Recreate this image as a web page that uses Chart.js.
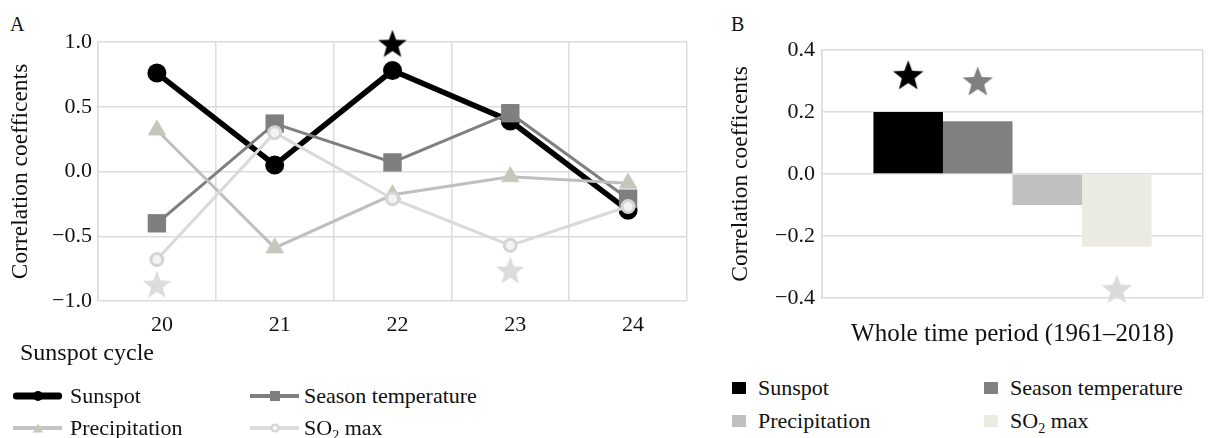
<!DOCTYPE html>
<html>
<head>
<meta charset="utf-8">
<script src="https://cdn.jsdelivr.net/npm/chart.js@4"></script>
<style>
  body { margin: 0; width: 1219px; height: 438px; background: #fff; position: relative; overflow: hidden;
         font-family: 'Liberation Serif', serif; font-size: 22px; color: #111; }
  .abs { position: absolute; }
  #boxA { left: 0; top: 0; width: 700px; height: 340px; }
  #boxB { left: 700px; top: 0; width: 519px; height: 345px; }
  .panel { font-size: 20px; }
  .item { position: absolute; height: 26px; line-height: 26px; white-space: nowrap; }
  .icon { position: absolute; top: 3px; width: 49px; height: 20px; }
  .icon .ln { position: absolute; left: 0; right: 0; top: 50%; transform: translateY(-50%); }
  .icon .mk { position: absolute; left: 50%; top: 50%; transform: translate(-50%, -50%); }
  .sq { position: absolute; top: 7px; width: 14px; height: 12px; }
  sub { font-size: 14px; line-height: 0; }
</style>
</head>
<body>
<div class="abs panel" style="left:10px;top:13px;">A</div>
<div class="abs panel" style="left:731px;top:13px;">B</div>
<div id="boxA" class="abs"><canvas id="chartA"></canvas></div>
<div id="boxB" class="abs"><canvas id="chartB"></canvas></div>
<div class="abs" style="left:20px;top:338px;font-size:24px;line-height:28px;">Sunspot cycle</div>

<!-- legend A -->
<div class="item" style="left:13px;top:383px;">
  <div class="icon"><div class="ln" style="height:7px;background:#000;border-radius:3px;"></div>
    <div class="mk" style="width:10px;height:10px;border-radius:50%;background:#000;"></div></div>
  <span style="margin-left:57px;">Sunspot</span>
</div>
<div class="item" style="left:250px;top:383px;">
  <div class="icon"><div class="ln" style="height:4px;background:#7f7f7f;"></div>
    <div class="mk" style="width:10px;height:10px;background:#7f7f7f;"></div></div>
  <span style="margin-left:54px;">Season temperature</span>
</div>
<div class="item" style="left:13px;top:415px;">
  <div class="icon"><div class="ln" style="height:4px;background:#c4c4c4;"></div>
    <div class="mk" style="width:0;height:0;border-left:5px solid transparent;border-right:5px solid transparent;border-bottom:9px solid #c3c8bb;"></div></div>
  <span style="margin-left:57px;">Precipitation</span>
</div>
<div class="item" style="left:250px;top:415px;">
  <div class="icon"><div class="ln" style="height:4px;background:#dcdcdc;"></div>
    <div class="mk" style="width:5px;height:5px;border-radius:50%;background:#f4f4f4;border:2px solid #d2d2d2;"></div></div>
  <span style="margin-left:54px;">SO<sub>2</sub> max</span>
</div>

<!-- legend B -->
<div class="item" style="left:732px;top:375px;"><div class="sq" style="left:0;background:#000;"></div><span style="margin-left:26px;">Sunspot</span></div>
<div class="item" style="left:984px;top:375px;"><div class="sq" style="left:0;background:#808080;"></div><span style="margin-left:26px;">Season temperature</span></div>
<div class="item" style="left:732px;top:408px;"><div class="sq" style="left:0;background:#c0c0c0;"></div><span style="margin-left:26px;">Precipitation</span></div>
<div class="item" style="left:984px;top:408px;"><div class="sq" style="left:0;background:#ecebe1;"></div><span style="margin-left:26px;">SO<sub>2</sub> max</span></div>

<script>
// ---- Panel A data ----
const cycles = ['20', '21', '22', '23', '24'];
const sunspot = [0.76, 0.05, 0.78, 0.39, -0.30];
const seasonTemp = [-0.40, 0.37, 0.07, 0.45, -0.21];
const precipitation = [0.32, -0.59, -0.18, -0.04, -0.09];
const so2Max = [-0.68, 0.30, -0.21, -0.57, -0.27];
const sunspotStars = [null, null, 0.99, null, null];
const so2Stars = [-0.87, null, null, -0.76, null];

// ---- Panel B data ----
const periodLabels = ['Whole time period (1961\u20132018)'];
const wholeNames = ['Sunspot', 'Season temperature', 'Precipitation', 'SO2 max'];
const wholeValues = [0.20, 0.17, -0.10, -0.235];
const wholeStars = [0.32, 0.30, null, -0.37];

const gridColor = '#dcdcdc';
const barColors = ['#000000', '#808080', '#c0c0c0', '#ecebe1'];
const starColorsB = ['#000000', '#808080', null, '#dadada'];

Chart.defaults.font.family = "'Liberation Serif', serif";
Chart.defaults.font.size = 22;
Chart.defaults.color = '#111';

function fmtTick(v) {
  if (Math.abs(v) < 1e-9) return '0.0';
  return (v < 0 ? '\u2212' : '') + Math.abs(v).toFixed(1);
}

function makeStar(color, size) {
  const c = document.createElement('canvas');
  c.width = size; c.height = size;
  const ctx = c.getContext('2d');
  const R = size / 2, r = R * 0.42;
  ctx.beginPath();
  for (let i = 0; i < 10; i++) {
    const rad = (i % 2 === 0) ? R : r;
    const a = -Math.PI / 2 + i * Math.PI / 5;
    const x = R + rad * Math.cos(a);
    const y = R + 1.5 + rad * Math.sin(a);
    if (i === 0) ctx.moveTo(x, y); else ctx.lineTo(x, y);
  }
  ctx.closePath();
  ctx.fillStyle = color;
  ctx.fill();
  return c;
}

function createChartA() {
  const ctx = document.getElementById('chartA').getContext('2d');
  new Chart(ctx, {
    type: 'line',
    data: {
      labels: cycles,
      datasets: [
        { label: 'Sunspot', data: sunspot, borderColor: '#000', backgroundColor: '#000',
          borderWidth: 5.5, pointRadius: 9.5, pointBorderWidth: 0, pointStyle: 'circle', order: 4 },
        { label: 'Season temperature', data: seasonTemp, borderColor: '#7f7f7f', backgroundColor: '#7f7f7f',
          borderWidth: 3, pointRadius: 13, pointBorderWidth: 0, pointStyle: 'rect', order: 3 },
        { label: 'Precipitation', data: precipitation, borderColor: '#bfbfbf', backgroundColor: '#c3c8bb',
          borderWidth: 3, pointRadius: 10, pointBorderWidth: 1, pointBorderColor: '#c8ccc0', pointStyle: 'triangle', order: 2 },
        { label: 'SO2 max', data: so2Max, borderColor: '#d9d9d9', backgroundColor: '#f3f3f3',
          borderWidth: 3, pointRadius: 6, pointBorderWidth: 3, pointBorderColor: '#d4d4d4', pointStyle: 'circle', order: 1 },
        { label: 'Sunspot *', data: sunspotStars, showLine: false, clip: false, pointStyle: makeStar('#000', 30), order: 0 },
        { label: 'SO2 *', data: so2Stars, showLine: false, clip: false, pointStyle: makeStar('#dcdcdc', 30), order: 0 }
      ]
    },
    options: {
      responsive: true,
      maintainAspectRatio: false,
      animation: false,
      layout: { padding: { top: 42, right: 12, left: 0, bottom: 0 } },
      plugins: { legend: { display: false }, tooltip: { enabled: false } },
      elements: { line: { tension: 0 } },
      scales: {
        x: {
          offset: true,
          grid: { offset: true, color: gridColor, lineWidth: 1.5, drawTicks: false },
          border: { display: false },
          ticks: { padding: 11, labelOffset: 5 },
          afterFit: (s) => { s.height = 39; }
        },
        y: {
          min: -1, max: 1,
          ticks: { stepSize: 0.5, padding: 6, callback: fmtTick },
          grid: { color: gridColor, lineWidth: 1.5, drawTicks: false },
          border: { color: gridColor, width: 1.5 },
          title: { display: true, text: 'Correlation coefficents', font: { size: 23.5 }, padding: { top: 7, bottom: 0 } },
          afterFit: (s) => { s.width = 98; }
        }
      }
    }
  });
}

const barStarsPlugin = {
  id: 'barStars',
  afterDatasetsDraw(chart) {
    const ctx = chart.ctx;
    const yScale = chart.scales.y;
    wholeStars.forEach((v, i) => {
      if (v === null) return;
      const bar = chart.getDatasetMeta(i).data[0];
      const img = makeStar(starColorsB[i], 32);
      ctx.drawImage(img, bar.x - 16, yScale.getPixelForValue(v) - 16);
    });
  }
};

function createChartB() {
  const ctx = document.getElementById('chartB').getContext('2d');
  new Chart(ctx, {
    type: 'bar',
    data: {
      labels: periodLabels,
      datasets: wholeNames.map((name, i) => ({
        label: name,
        data: [wholeValues[i]],
        backgroundColor: barColors[i],
        borderWidth: 0,
        barPercentage: 1,
        categoryPercentage: 0.73
      }))
    },
    options: {
      responsive: true,
      maintainAspectRatio: false,
      animation: false,
      layout: { padding: { top: 50, right: 16, left: 0, bottom: 0 } },
      plugins: { legend: { display: false }, tooltip: { enabled: false } },
      scales: {
        x: {
          grid: { offset: true, color: gridColor, lineWidth: 1.5, drawTicks: false },
          border: { display: false },
          ticks: { padding: 21, font: { size: 25 } },
          afterFit: (s) => { s.height = 47; }
        },
        y: {
          min: -0.4, max: 0.4,
          ticks: { stepSize: 0.2, padding: 7, callback: fmtTick },
          grid: { color: gridColor, lineWidth: 1.5, drawTicks: false },
          border: { color: gridColor, width: 1.5 },
          title: { display: true, text: 'Correlation coefficents', font: { size: 23.5 }, padding: { top: 27, bottom: 0 } },
          afterFit: (s) => { s.width = 122; }
        }
      }
    },
    plugins: [barStarsPlugin]
  });
}

document.addEventListener('DOMContentLoaded', () => {
  createChartA();
  createChartB();
});
</script>
</body>
</html>
